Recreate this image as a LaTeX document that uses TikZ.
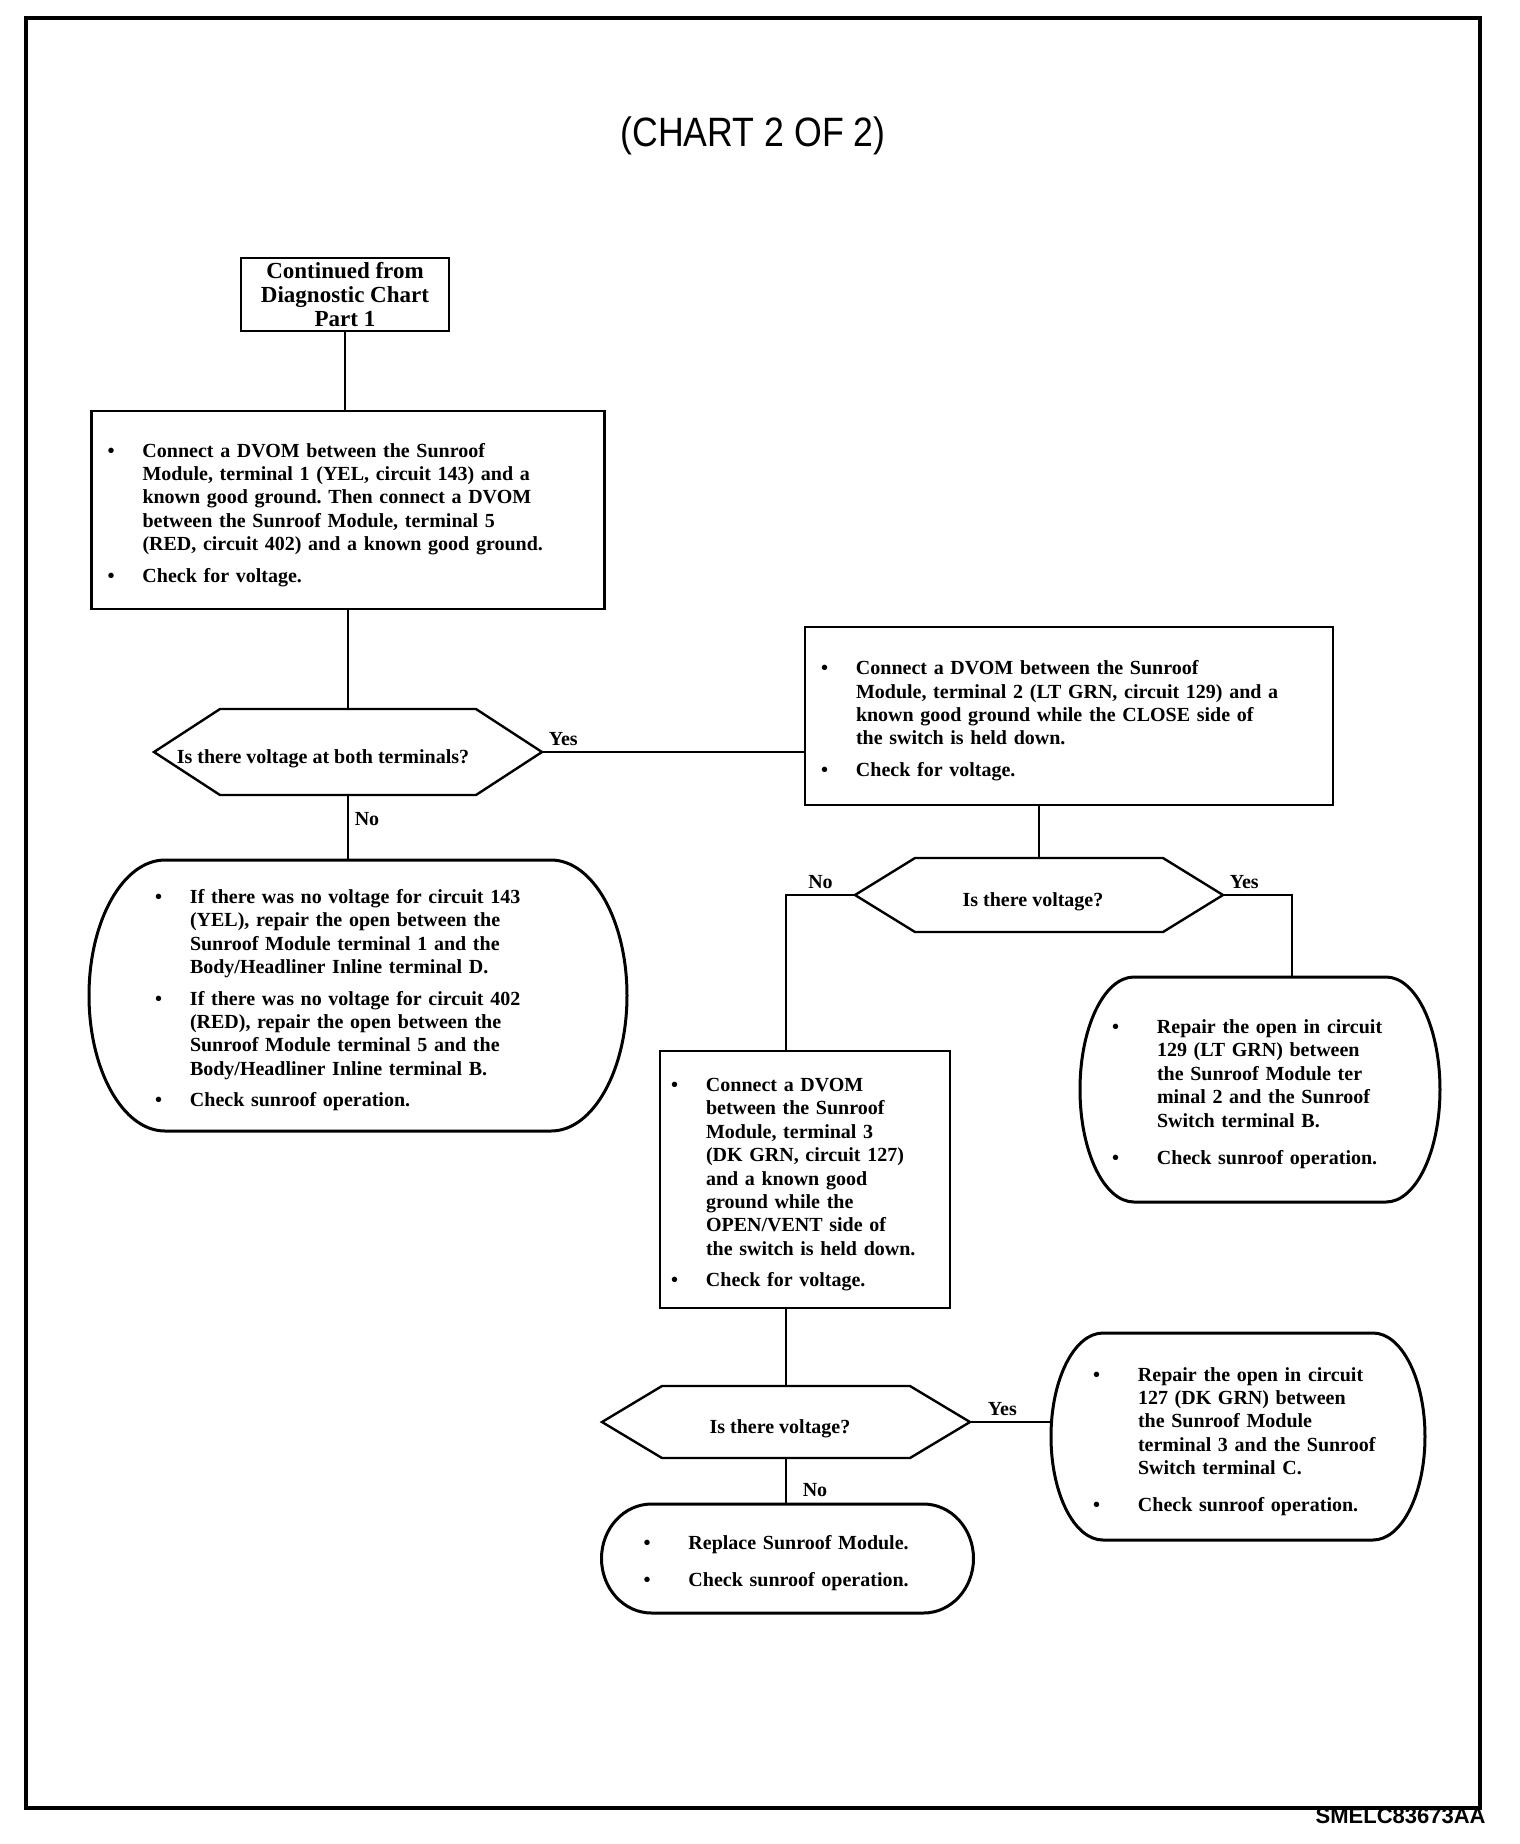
\documentclass[tikz,border=0pt]{standalone}
\usepackage{fontspec}
\setmainfont{Liberation Serif}
\newfontfamily\titlefont[FakeStretch=0.87]{Liberation Sans}
\newfontfamily\codefont{Liberation Sans}
\usetikzlibrary{calc}
\frenchspacing
\newlength{\bulhang}
\setlength{\bulhang}{17.5pt}
\newcommand{\bodyfont}{\fontsize{10}{11.7}\selectfont\bfseries}
\newcommand{\nl}{\hfil\break}
\newcommand{\bul}[2][0pt]{\par\vspace{#1}\hangindent=\bulhang\hangafter=1\noindent\makebox[\bulhang][l]{\textbullet}#2\par}
% question text, pushed left by #1
\newcommand{\asktext}[2]{#2\kern#1}
% hexagon round a question node: name, slant width
\newcommand{\hexq}[2]{\draw[hexline] (#1.west) -- ([xshift=#2]#1.north west) -- ([xshift=-#2]#1.north east) -- (#1.east) -- ([xshift=-#2]#1.south east) -- ([xshift=#2]#1.south west) -- cycle;}
% box with elliptic ends: name, cap width, half height
\newcommand{\capq}[3]{\draw[capline] ([xshift=#2]#1.north west) -- ([xshift=-#2]#1.north east) arc[start angle=90,end angle=-90,x radius=#2,y radius=#3] -- ([xshift=#2]#1.south west) arc[start angle=270,end angle=90,x radius=#2,y radius=#3] -- cycle;}
\tikzset{
  chkbox/.style={draw,line width=1.2pt,font=\bodyfont,align=left,inner ysep=0pt,outer sep=0pt},
  fixbox/.style={font=\bodyfont,align=left,inner ysep=0pt,outer sep=0pt},
  ask/.style={font=\bodyfont,inner sep=0pt,outer sep=0pt,text height=11pt,text depth=0pt},
  widehang/.style={execute at begin node={\setlength{\bulhang}{22.5pt}}},
  hexline/.style={line width=1.2pt},
  capline/.style={line width=1.5pt},
}

\begin{document}
\begin{tikzpicture}[x=0.5pt,y=-0.5pt,
    link/.style={line width=0.8pt},
    lab/.style={font=\bodyfont,inner sep=3pt},
  ]
  \useasboundingbox (0,0) rectangle (1520,1844);
  \draw[line width=2pt] (26,18) rectangle (1480,1808);
  \node[font=\titlefont\fontsize{20.5}{24}\selectfont] (title) at (753,136) {(CHART 2 OF 2)};
  \node[font=\codefont\bfseries\fontsize{11}{13}\selectfont,anchor=east,inner sep=0pt] (code) at (1486,1816) {SMELC83673AA};

  \node[draw,line width=1.2pt,font=\fontsize{11.5}{11.8}\selectfont\bfseries,align=center,minimum width=104pt,minimum height=36.5pt,inner sep=0pt] (start) at (345,294.5) {Continued from\\Diagnostic Chart\\Part 1};

  % first check
  \node[chkbox,minimum width=256.5pt,minimum height=99pt,inner xsep=8pt,text width=240.5pt] (chk1) at (348,510) {%
    \bul{Connect a DVOM between the Sunroof\nl Module, terminal 1 (YEL, circuit 143) and a\nl known good ground. Then connect a DVOM\nl between the Sunroof Module, terminal 5\nl (RED, circuit 402) and a known good ground.}
    \bul[4pt]{Check for voltage.}};
  \node[ask,minimum width=194pt,minimum height=43pt] (q1) at (348,752) {\asktext{25pt}{Is there voltage at both terminals?}};
  \hexq{q1}{33pt}
  \node[fixbox,minimum width=269pt,minimum height=135.5pt,inner xsep=33pt,text width=203pt] (fix1) at (358,995.5) {%
    \bul{If there was no voltage for circuit 143\nl (YEL), repair the open between the\nl Sunroof Module terminal 1 and the\nl Body/Headliner Inline terminal D.}
    \bul[4pt]{If there was no voltage for circuit 402\nl (RED), repair the open between the\nl Sunroof Module terminal 5 and the\nl Body/Headliner Inline terminal B.}
    \bul[4pt]{Check sunroof operation.}};
  \capq{fix1}{38pt}{67.75pt}

  % second check
  \node[chkbox,minimum width=264pt,minimum height=89pt,inner xsep=8pt,text width=248pt] (chk2) at (1069,716) {%
    \bul{Connect a DVOM between the Sunroof\nl Module, terminal 2 (LT GRN, circuit 129) and a\nl known good ground while the CLOSE side of\nl the switch is held down.}
    \bul[4pt]{Check for voltage.}};
  \node[ask,minimum width=184pt,minimum height=37pt] (q2) at (1039,895) {\asktext{6pt}{Is there voltage?}};
  \hexq{q2}{30pt}
  \node[fixbox,widehang,minimum width=180pt,minimum height=112.5pt,inner xsep=16pt,text width=148pt] (fix2) at (1260,1089.5) {%
    \bul{Repair the open in circuit\nl 129 (LT GRN) between\nl the Sunroof Module ter\nl minal 2 and the Sunroof\nl Switch terminal B.}
    \bul[7pt]{Check sunroof operation.}};
  \capq{fix2}{27pt}{56.25pt}

  % third check
  \node[chkbox,minimum width=145pt,minimum height=128.5pt,inner xsep=5.5pt,text width=134pt] (chk3) at (805,1179.5) {%
    \bul{Connect a DVOM\nl between the Sunroof\nl Module, terminal 3\nl (DK GRN, circuit 127)\nl and a known good\nl ground while the\nl OPEN/VENT side of\nl the switch is held down.}
    \bul[4pt]{Check for voltage.}};
  \node[ask,minimum width=184pt,minimum height=36pt] (q3) at (786,1422) {\asktext{6pt}{Is there voltage?}};
  \hexq{q3}{30pt}
  \node[fixbox,widehang,minimum width=187pt,minimum height=103.5pt,inner xsep=21pt,text width=145pt] (fix3) at (1238,1436.5) {%
    \bul{Repair the open in circuit\nl 127 (DK GRN) between\nl the Sunroof Module\nl terminal 3 and the Sunroof\nl Switch terminal C.}
    \bul[6.5pt]{Check sunroof operation.}};
  \capq{fix3}{26pt}{51.75pt}
  \node[fixbox,widehang,minimum width=186pt,minimum height=54.5pt,inner xsep=21pt,text width=144pt] (fix4) at (787.5,1558.5) {%
    \bul{Replace Sunroof Module.}
    \bul[6.5pt]{Check sunroof operation.}};
  \capq{fix4}{25pt}{27.25pt}

  % connectors
  \draw[link] (start.south) -- (start.south |- chk1.north);
  \draw[link] (chk1.south) -- (q1.north);
  \draw[link] (q1.east) -- node[lab,pos=0,above right]{Yes} (q1.east -| chk2.west);
  \draw[link] (q1.south) -- node[lab,pos=0.37,right]{No} (q1.south |- fix1.north);
  \draw[link] (q2.north |- chk2.south) -- (q2.north);
  \draw[link] (q2.west) -| node[lab,pos=0.25,above]{No} (q3.north |- chk3.north);
  \draw[link] (q2.east) -| node[lab,pos=0,above right]{Yes} ($(fix2.north)+(32,0)$);
  \draw[link] (q3.north |- chk3.south) -- (q3.north);
  \draw[link] (q3.east) -- node[lab,pos=0.4,above]{Yes} (q3.east -| fix3.west);
  \draw[link] (q3.south) -- node[lab,pos=0.7,right=5pt]{No} (q3.south |- fix4.north);
\end{tikzpicture}
\end{document}
